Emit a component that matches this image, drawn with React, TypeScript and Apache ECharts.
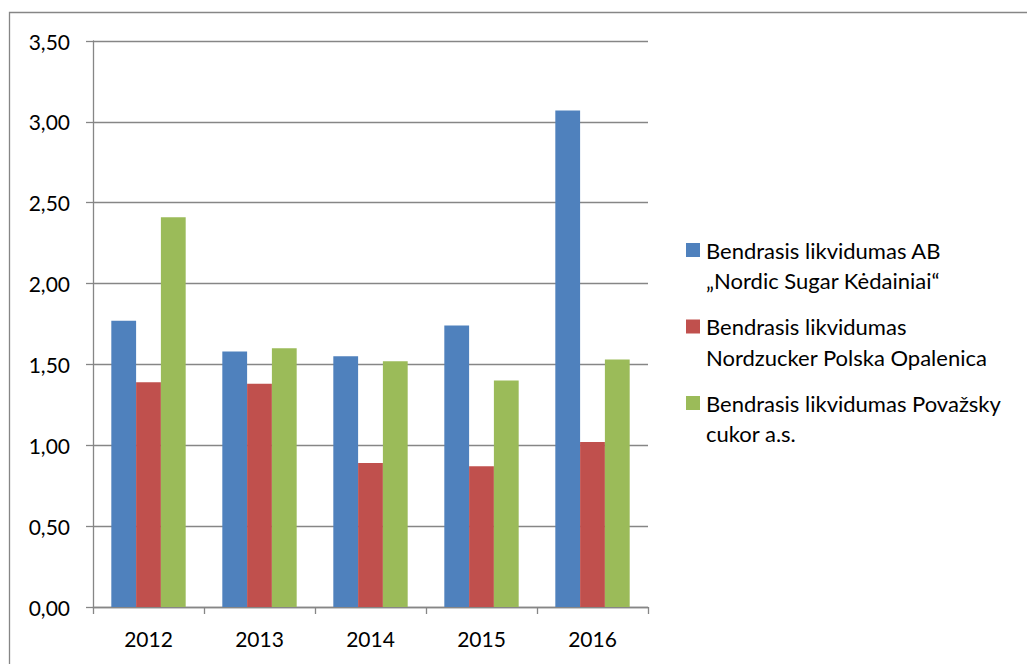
import React, { useEffect, useRef } from "react";
import * as echarts from "echarts";

const categories = ["2012", "2013", "2014", "2015", "2016"];
const seriesNames = [
  "Bendrasis likvidumas AB „Nordic Sugar Kėdainiai“",
  "Bendrasis likvidumas Nordzucker Polska Opalenica",
  "Bendrasis likvidumas Považsky cukor a.s.",
];
const legendLines = [
  ["Bendrasis likvidumas AB", "„Nordic Sugar Kėdainiai“"],
  ["Bendrasis likvidumas", "Nordzucker Polska Opalenica"],
  ["Bendrasis likvidumas Považsky", "cukor a.s."],
];
const kedainiai = [1.77, 1.58, 1.55, 1.74, 3.07];
const opalenica = [1.39, 1.38, 0.89, 0.87, 1.02];
const povazsky = [2.41, 1.6, 1.52, 1.4, 1.53];
const colors = ["#4F81BD", "#C0504D", "#9BBB59"];

const FONT = "Lato";
const GRAY = "#868686";

export default function App() {
  const ref = useRef<HTMLDivElement>(null);
  useEffect(() => {
    const chart = echarts.init(ref.current!, null, { renderer: "svg" });
    const values = [kedainiai, opalenica, povazsky];
    const legendGraphics: any[] = [];
    legendLines.forEach((lines, i) => {
      const top = 243 + i * 76.5;
      legendGraphics.push({
        type: "rect",
        shape: { x: 686, y: top, width: 14, height: 14 },
        style: { fill: colors[i] },
      });
      lines.forEach((ln, j) => {
        legendGraphics.push({
          type: "text",
          x: 706,
          y: top + 7 + j * 30.5,
          style: {
            text: ln,
            fill: "#000",
            font: `22px ${FONT}`,
            textVerticalAlign: "middle",
            textAlign: "left",
          },
        });
      });
    });
    chart.setOption({
      animation: false,
      backgroundColor: "#fff",
      grid: { left: 93, right: 379, top: 41, bottom: 57, containLabel: false },
      xAxis: {
        type: "category",
        data: categories,
        axisLine: { lineStyle: { color: GRAY, width: 1.3 } },
        axisTick: { show: true, length: 7, lineStyle: { color: GRAY, width: 1.3 } },
        axisLabel: { color: "#000", fontSize: 21, fontFamily: FONT, margin: 21 },
      },
      yAxis: {
        type: "value",
        min: 0,
        max: 3.5,
        interval: 0.5,
        axisLine: { show: true, lineStyle: { color: GRAY, width: 1.3 } },
        axisTick: { show: true, length: 7, lineStyle: { color: GRAY, width: 1.3 } },
        splitLine: { show: true, lineStyle: { color: GRAY, width: 1.3 } },
        axisLabel: {
          color: "#000",
          fontSize: 21,
          fontFamily: FONT,
          margin: 23,
          formatter: (v: number) => v.toFixed(2).replace(".", ","),
        },
      },
      series: values.map((d, i) => ({
        name: seriesNames[i],
        type: "bar",
        data: d,
        barGap: "0%",
        barCategoryGap: "33%",
        itemStyle: { color: colors[i] },
      })),
      graphic: [
        {
          type: "rect",
          shape: { x: 9.5, y: 12.5, width: 1100, height: 700 },
          style: { fill: "none", stroke: GRAY, lineWidth: 1.3 },
          silent: true,
        },
        ...legendGraphics,
      ],
    });
    return () => chart.dispose();
  }, []);
  return (
    <div
      ref={ref}
      style={{ position: "fixed", left: 0, top: 0, width: 1027, height: 664 }}
    />
  );
}
